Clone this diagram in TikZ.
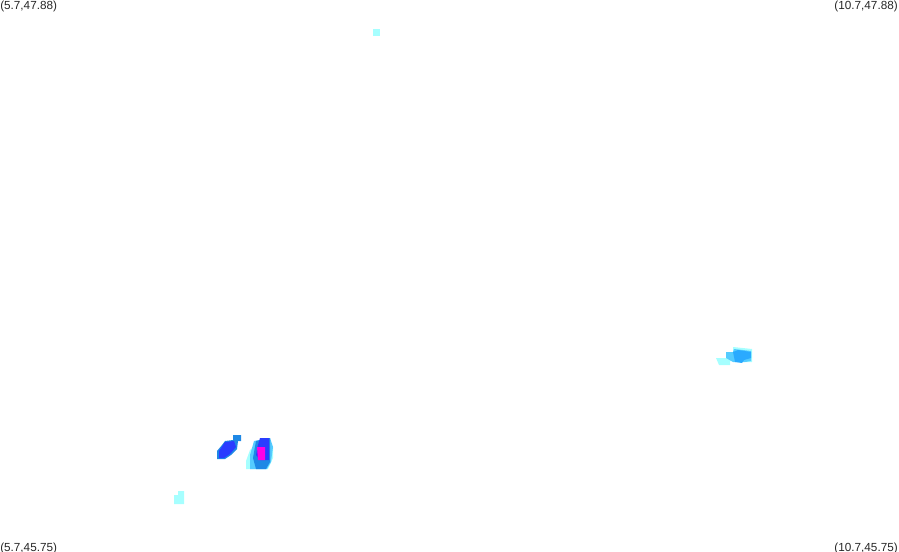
\documentclass[tikz,border=0pt]{standalone}
\usepackage{fontspec}
\setmainfont{Liberation Sans}
\definecolor{rainlight}{HTML}{A6FFFF}
\definecolor{rainsky}{HTML}{55CCFF}
\definecolor{rainazure}{HTML}{2AAAFF}
\definecolor{rainmid}{HTML}{1E88E5}
\definecolor{raindark}{HTML}{2A3CFF}
\definecolor{rainpeak}{HTML}{FF00E6}
\tikzset{
  cornerlabel/.style={inner sep=0pt, font=\fontsize{8.8pt}{10pt}\selectfont, text=black!85},
}
\begin{document}
\begin{tikzpicture}[x=0.75pt, y=-0.75pt]
  \useasboundingbox (0,0) rectangle (899,552);

  \node[cornerlabel, anchor=north west] (nw) at (0,1) {(5.7,47.88)};
  \node[cornerlabel, anchor=north east] (ne) at (898,1) {(10.7,47.88)};
  \node[cornerlabel, anchor=south west] (sw) at (0,554) {(5.7,45.75)};
  \node[cornerlabel, anchor=south east] (se) at (898,554) {(10.7,45.75)};

  % top speck
  \fill[rainlight] (373,29) rectangle (380,36);

  % lower left speck
  \fill[rainlight] (174,504) -- (174,495) -- (178,495) -- (178,491) -- (184,491) -- (184,504) -- cycle;

  % right cell
  \fill[rainlight] (716,358) -- (726,358) -- (726,352) -- (733,352) -- (733,347) -- (752,349) -- (752,362) -- (745,362) -- (730,361) -- (730,365) -- (719,365) -- cycle;
  \fill[rainsky] (726,352) -- (733,352) -- (734,349) -- (751,351) -- (751,361) -- (745,362) -- (733,362) -- (726,358) -- cycle;
  \fill[rainazure] (733,352) -- (738,350) -- (751,352) -- (751,358) -- (744,360) -- (742,363) -- (735,362) -- cycle;

  % left band
  \fill[rainmid] (233,435) -- (241,435) -- (241,441) -- (238,441) -- (237,449) -- (231,455) -- (225,459) -- (217,459) -- (217,451) -- (222,445) -- (225,441) -- (233,440) -- cycle;
  \fill[raindark] (225,442) -- (234,441) -- (236,447) -- (230,454) -- (224,458) -- (219,458) -- (219,451) -- cycle;

  % core cell
  \fill[rainlight] (246,469) -- (246,461) -- (250,450) -- (256,445) -- (268,445) -- (273,447) -- (273,458) -- (268,469) -- cycle;
  \fill[rainsky] (250,469) -- (250,455) -- (254,441) -- (270,438) -- (273,447) -- (271,462) -- (267,469) -- cycle;
  \fill[rainmid] (256,469) -- (253,458) -- (256,441) -- (270,438) -- (270,462) -- (266,469) -- cycle;
  \fill[raindark] (260,438) -- (269,438) -- (269,460) -- (260,460) -- (256,455) -- (258,445) -- cycle;
  \fill[rainpeak] (257,447) -- (265,447) -- (265,460) -- (258,460) -- cycle;
\end{tikzpicture}
\end{document}
